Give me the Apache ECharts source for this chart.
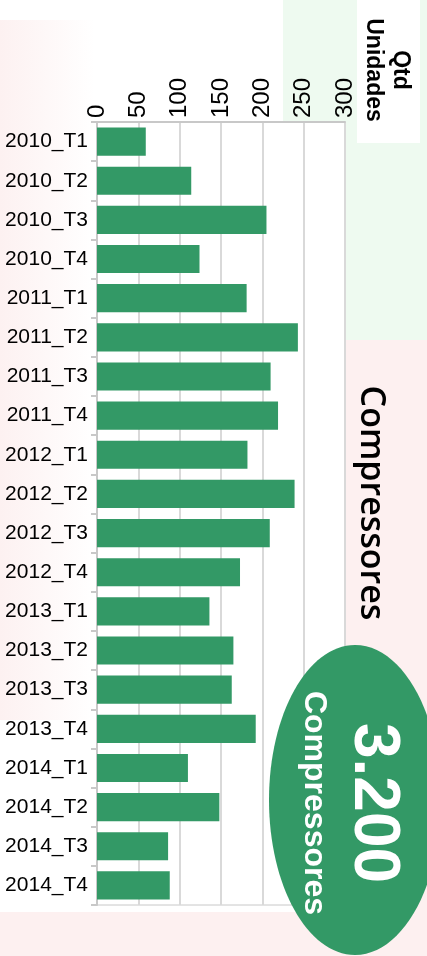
<!DOCTYPE html>
<html>
<head>
<meta charset="utf-8">
<title>Compressores</title>
<script src="https://cdn.jsdelivr.net/npm/echarts@6/dist/echarts.min.js"></script>
<style>
  html, body { margin: 0; padding: 0; background: #fff; }
  #chart { width: 427px; height: 956px; }
</style>
</head>
<body>
<div id="chart"></div>
<script>
// trimestres
var categories = ['2010_T1', '2010_T2', '2010_T3', '2010_T4',
  '2011_T1', '2011_T2', '2011_T3', '2011_T4',
  '2012_T1', '2012_T2', '2012_T3', '2012_T4',
  '2013_T1', '2013_T2', '2013_T3', '2013_T4',
  '2014_T1', '2014_T2', '2014_T3', '2014_T4'];
// unidades vendidas por trimestre
var values = [59, 114, 205, 124,
  181, 243, 210, 219,
  182, 239, 209, 173,
  136, 165, 163, 192,
  110, 148, 86, 88];
var totalText = '3.200';

var chart = echarts.init(document.getElementById('chart'));
var green = '#339966';

var option = {
  backgroundColor: '#fff',
  animation: false,
  graphic: [
    // fundo suave
    { type: 'rect', z: -10, shape: { x: 283, y: 0, width: 144, height: 340 }, style: { fill: '#eefaf0' } },
    { type: 'rect', z: -10, shape: { x: 345, y: 340, width: 82, height: 616 }, style: { fill: '#fdf0f0' } },
    { type: 'rect', z: -10, shape: { x: 0, y: 912, width: 427, height: 44 }, style: { fill: '#fdf0f0' } },
    {
      type: 'rect', z: -10, shape: { x: 0, y: 20, width: 95, height: 700 },
      style: {
        fill: new echarts.graphic.LinearGradient(0, 0, 1, 0, [
          { offset: 0, color: '#fdf1f1' }, { offset: 1, color: '#ffffff' }
        ])
      }
    },
    // caixa do titulo do eixo
    { type: 'rect', z: 1, shape: { x: 357, y: 0, width: 63, height: 143 }, style: { fill: '#fff' } },
    {
      type: 'text', z: 2, x: 387, y: 70, rotation: -Math.PI / 2,
      style: {
        text: 'Qtd\nUnidades', fill: '#000', font: 'bold 23px "Liberation Sans", Arial',
        align: 'center', verticalAlign: 'middle', lineHeight: 27
      }
    },
    {
      type: 'text', z: 2, x: 371, y: 503, rotation: -Math.PI / 2,
      style: {
        text: 'Compressores', fill: '#000', font: '600 34px "Open Sans", "Noto Sans", sans-serif',
        align: 'center', verticalAlign: 'middle'
      }
    },
    {
      type: 'ellipse', z: 3, shape: { cx: 355, cy: 800, rx: 86, ry: 155 },
      style: { fill: green }
    },
    {
      type: 'text', z: 4, x: 373, y: 803, rotation: -Math.PI / 2,
      style: {
        text: totalText, fill: '#fff', font: 'bold 64px "Liberation Sans", Arial',
        align: 'center', verticalAlign: 'middle'
      }
    },
    {
      type: 'text', z: 4, x: 314, y: 803, rotation: -Math.PI / 2,
      style: {
        text: 'Compressores', fill: '#fff', font: 'bold 32px "Liberation Sans", Arial',
        align: 'center', verticalAlign: 'middle'
      }
    }
  ],
  grid: {
    left: 97, right: 82, top: 122, bottom: 51,
    show: true, backgroundColor: '#fff', borderColor: '#c8c8c8', borderWidth: 1
  },
  xAxis: {
    type: 'value',
    position: 'top',
    min: 0, max: 300, interval: 50,
    axisLine: { show: true, lineStyle: { color: '#c8c8c8', width: 2 } },
    axisTick: { show: false },
    splitLine: { lineStyle: { color: '#d9d9d9', width: 2 } },
    axisLabel: {
      rotate: -90, margin: 4, color: '#000', fontSize: 24,
      fontFamily: '"Liberation Sans", Arial'
    }
  },
  yAxis: {
    type: 'category',
    inverse: true,
    data: categories,
    axisLine: { show: true, lineStyle: { color: '#c8c8c8', width: 2 } },
    axisTick: { show: true, length: 6, lineStyle: { color: '#c8c8c8', width: 2 } },
    axisLabel: {
      margin: 9, color: '#000', fontSize: 21,
      fontFamily: '"Liberation Sans", Arial'
    }
  },
  series: [
    {
      type: 'bar',
      data: values,
      barCategoryGap: '28%',
      itemStyle: { color: green }
    }
  ]
};
chart.setOption(option);
</script>
</body>
</html>
